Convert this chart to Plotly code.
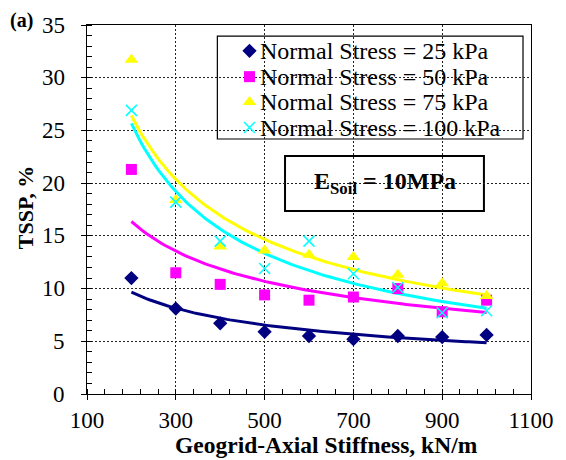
import numpy as np
import plotly.graph_objects as go

# Geogrid axial stiffness (kN/m)
stiffness = [200, 300, 400, 500, 600, 700, 800, 900, 1000]

# TSSP (%) for each normal stress level
tssp_25 = [11.0, 8.1, 6.7, 5.9, 5.5, 5.2, 5.5, 5.4, 5.6]
tssp_50 = [21.3, 11.5, 10.4, 9.4, 8.9, 9.2, 10.0, 7.8, 8.9]
tssp_75 = [31.7, 18.4, 14.0, 13.6, 13.2, 13.0, 11.3, 10.5, 9.3]
tssp_100 = [26.9, 18.2, 14.5, 11.9, 14.5, 11.4, 10.1, 7.7, 7.9]

series_names = [
    "Normal Stress = 25 kPa",
    "Normal Stress = 50 kPa",
    "Normal Stress = 75 kPa",
    "Normal Stress = 100 kPa",
]

x_ticks = [100, 300, 500, 700, 900, 1100]
y_ticks = [0, 5, 10, 15, 20, 25, 30, 35]

FONT = "Times New Roman, Liberation Serif, serif"
colors = ["#000080", "#FF00FF", "#FFFF00", "#00FFFF"]
symbols = ["diamond", "square", "triangle-up", "x-thin"]
sizes = [11, 11, 12, 11]

fig = go.Figure()

x_arr = np.array(stiffness, dtype=float)
x_fit = np.linspace(x_arr.min(), x_arr.max(), 120)

for vals, col in zip([tssp_25, tssp_50, tssp_75, tssp_100], colors):
    # power-law trend line y = a * x^b fitted in log-log space
    b, ln_a = np.polyfit(np.log(x_arr), np.log(np.array(vals, dtype=float)), 1)
    y_fit = np.exp(ln_a) * x_fit ** b
    fig.add_trace(go.Scatter(
        x=x_fit, y=y_fit, mode="lines", line=dict(color=col, width=3),
        showlegend=False, hoverinfo="skip",
    ))


def make_marker(sym, col, sz):
    m = dict(symbol=sym, size=sz, color=col)
    if sym == "x-thin":
        m["line"] = dict(color=col, width=1.5)
    return m


for vals, name, col, sym, sz in zip(
    [tssp_25, tssp_50, tssp_75, tssp_100], series_names, colors, symbols, sizes
):
    fig.add_trace(go.Scatter(
        x=stiffness, y=vals, mode="markers", name=name,
        marker=make_marker(sym, col, sz), showlegend=False,
    ))

# legend keys drawn on an overlay axis spanning the plot area (0..1)
leg_x = 0.366
leg_rows = [0.930, 0.860, 0.791, 0.722]
for name, col, sym, sz, ry in zip(series_names, colors, symbols, sizes, leg_rows):
    fig.add_trace(go.Scatter(
        x=[leg_x], y=[ry], mode="markers", marker=make_marker(sym, col, sz),
        xaxis="x2", yaxis="y2", showlegend=False, hoverinfo="skip",
    ))
    fig.add_annotation(
        x=0.386, y=ry, xref="paper", yref="paper", text=name, showarrow=False,
        xanchor="left", yanchor="middle",
        font=dict(family=FONT, size=24, color="black"),
    )

# legend frame (between gridlines and data so it hides the grid)
fig.add_shape(type="rect", xref="paper", yref="paper",
              x0=0.2936, x1=0.982, y0=0.691, y1=0.970,
              line=dict(color="black", width=1.2), fillcolor="white", layer="between")

# soil modulus box
fig.add_shape(type="rect", xref="paper", yref="paper",
              x0=0.446, x1=0.894, y0=0.496, y1=0.645,
              line=dict(color="black", width=2), fillcolor="white", layer="between")
fig.add_annotation(
    x=0.671, y=0.572, xref="paper", yref="paper",
    text="<b>E<sub>Soil</sub> = 10MPa</b>", showarrow=False,
    xanchor="center", yanchor="middle",
    font=dict(family=FONT, size=24, color="black"),
)

# y tick labels, set a little further from the axis
for v in y_ticks:
    fig.add_annotation(
        x=(67 - 87) / 453, y=v, xref="paper", yref="y", text=str(v),
        showarrow=False, xanchor="right", yanchor="middle",
        font=dict(family=FONT, size=23, color="black"),
    )

# axis titles and panel label
fig.add_annotation(
    x=(331 - 87) / 453, y=(394 - 445) / 369, xref="paper", yref="paper",
    text="<b>Geogrid-Axial Stiffness, kN/m</b>", showarrow=False,
    xanchor="center", yanchor="middle",
    font=dict(family=FONT, size=23.5, color="black"),
)
fig.add_annotation(
    x=(24 - 87) / 453, y=(394 - 207) / 369, xref="paper", yref="paper",
    text="<b>TSSP, %</b>", showarrow=False, textangle=-90,
    xanchor="center", yanchor="middle",
    font=dict(family=FONT, size=22, color="black"),
)
fig.add_annotation(
    x=(20 - 87) / 453, y=(394 - 20) / 369, xref="paper", yref="paper",
    text="<b>(a)</b>", showarrow=False, xanchor="center", yanchor="middle",
    font=dict(family=FONT, size=20, color="black"),
)

grid_style = dict(showgrid=True, gridcolor="#222222", gridwidth=1, griddash="2px,2px")

fig.update_layout(
    width=566, height=460,
    margin=dict(l=87, r=26, t=25, b=66),
    paper_bgcolor="white", plot_bgcolor="white",
    font=dict(family=FONT, size=22, color="black"),
    showlegend=False,
    xaxis=dict(
        range=[100, 1100], tickmode="array", tickvals=x_ticks,
        ticks="outside", ticklen=5, tickcolor="black", tickwidth=1,
        showline=True, linecolor="black", linewidth=1, mirror=True,
        zeroline=False,
        minor=dict(ticks="inside", ticklen=5, dtick=40, tick0=100,
                   tickcolor="black", showgrid=False),
        tickfont=dict(family=FONT, size=23),
        **grid_style,
    ),
    yaxis=dict(
        range=[0, 35], tickmode="array", tickvals=y_ticks,
        ticks="outside", ticklen=5, tickcolor="black", tickwidth=1,
        showline=True, linecolor="black", linewidth=1, mirror=True,
        zeroline=False, showticklabels=False,
        minor=dict(ticks="inside", ticklen=5, dtick=1, tick0=0,
                   tickcolor="black", showgrid=False),
        **grid_style,
    ),
    xaxis2=dict(overlaying="x", range=[0, 1], visible=False, fixedrange=True),
    yaxis2=dict(overlaying="y", range=[0, 1], visible=False, fixedrange=True),
)

fig.write_html("out.html")
